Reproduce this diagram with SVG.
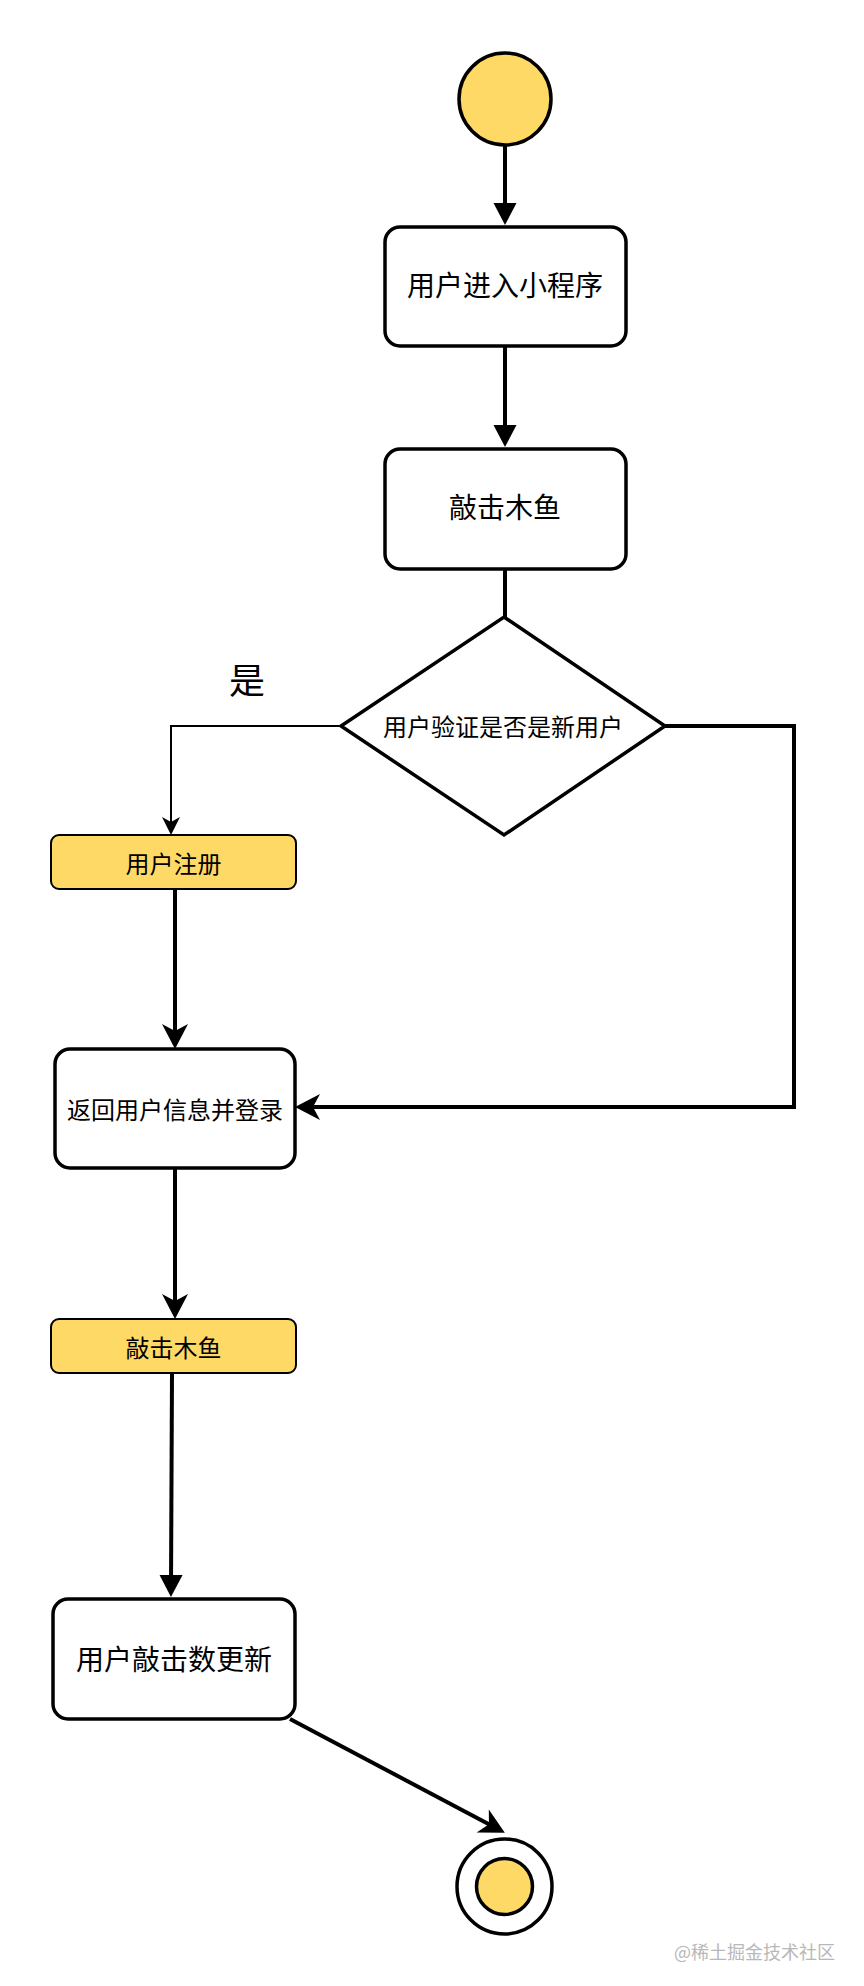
<svg xmlns="http://www.w3.org/2000/svg" width="864" height="1986" viewBox="0 0 864 1986">
<style>
.box{fill:#ffffff;stroke:#000000;stroke-width:3.5}
.ybox{fill:#FFD966;stroke:#000000;stroke-width:2}
.t{font-family:"Noto Sans CJK SC","Noto Sans",sans-serif;fill:#000000;text-anchor:middle;dominant-baseline:central}
.big{font-size:28px}
.mid{font-size:24px}
.con{fill:none;stroke:#000000;stroke-width:4;stroke-linejoin:miter}
.thin{fill:none;stroke:#000000;stroke-width:2}
</style>
<defs>
<marker id="tri" viewBox="-14 -14 26 28" refX="0" refY="0" markerWidth="26" markerHeight="28" markerUnits="userSpaceOnUse" orient="auto">
<path d="M10,0 L-12,-11.5 L-12,11.5 Z" fill="#000000"/>
</marker>
<marker id="notch" viewBox="-16 -14 28 28" refX="0" refY="0" markerWidth="28" markerHeight="28" markerUnits="userSpaceOnUse" orient="auto">
<path d="M10,0 L-15,-13 L-8,0 L-15,13 Z" fill="#000000"/>
</marker>
<marker id="thinarrow" viewBox="-12 -10 22 20" refX="0" refY="0" markerWidth="22" markerHeight="20" markerUnits="userSpaceOnUse" orient="auto">
<path d="M8,0 L-10,-9 L-5,0 L-10,9 Z" fill="#000000"/>
</marker>
</defs>
<rect width="864" height="1986" fill="#ffffff"/>
<g id="connectors">
<path class="con" d="M505,146 L505,215" marker-end="url(#tri)"/>
<path class="con" d="M505,346 L505,437" marker-end="url(#tri)"/>
<path class="con" d="M505,569 L505,617"/>
<path class="thin" d="M341,726 L171,726 L171,827" marker-end="url(#thinarrow)"/>
<path class="con" d="M665,726 L794,726 L794,1107 L305,1107" marker-end="url(#notch)"/>
<path class="con" d="M175,889 L175,1039" marker-end="url(#notch)"/>
<path class="con" d="M175,1168 L175,1309" marker-end="url(#notch)"/>
<path class="con" d="M172,1373 L171,1587" marker-end="url(#tri)"/>
<path class="con" d="M290,1719 L496,1828" marker-end="url(#notch)"/>
</g>
<g id="start">
<circle cx="505" cy="99" r="46" fill="#FFD966" stroke="#000000" stroke-width="3.5"/>
</g>
<g id="n1">
<rect class="box" x="385" y="227" width="241" height="119" rx="15"/>
<text class="t big" x="505" y="284">用户进入小程序</text>
</g>
<g id="n2">
<rect class="box" x="385" y="449" width="241" height="120" rx="15"/>
<text class="t big" x="505" y="506">敲击木鱼</text>
</g>
<g id="decision">
<polygon points="504,617 665,726 504,835 341,726" fill="#ffffff" stroke="#000000" stroke-width="3.5"/>
<text class="t mid" x="503" y="725">用户验证是否是新用户</text>
</g>
<g id="label-yes">
<text class="t" x="247" y="678" style="font-size:36px">是</text>
</g>
<g id="n3">
<rect class="ybox" x="51" y="835" width="245" height="54" rx="8"/>
<text class="t mid" x="173.5" y="862">用户注册</text>
</g>
<g id="n4">
<rect class="box" x="55" y="1049" width="240" height="119" rx="15"/>
<text class="t mid" x="175" y="1108">返回用户信息并登录</text>
</g>
<g id="n5">
<rect class="ybox" x="51" y="1319" width="245" height="54" rx="8"/>
<text class="t mid" x="173.5" y="1346">敲击木鱼</text>
</g>
<g id="n6">
<rect class="box" x="53" y="1599" width="242" height="120" rx="15"/>
<text class="t big" x="174" y="1658">用户敲击数更新</text>
</g>
<g id="end">
<circle cx="504.5" cy="1886.5" r="47.5" fill="#ffffff" stroke="#000000" stroke-width="3.5"/>
<circle cx="504.5" cy="1886.5" r="28" fill="#FFD966" stroke="#000000" stroke-width="3.5"/>
</g>
<g id="watermark">
<text x="835" y="1951" style="font-family:'Noto Sans CJK SC','Noto Sans',sans-serif;font-size:18px;fill:#b8b8b8;text-anchor:end;dominant-baseline:central">@稀土掘金技术社区</text>
</g>
</svg>
